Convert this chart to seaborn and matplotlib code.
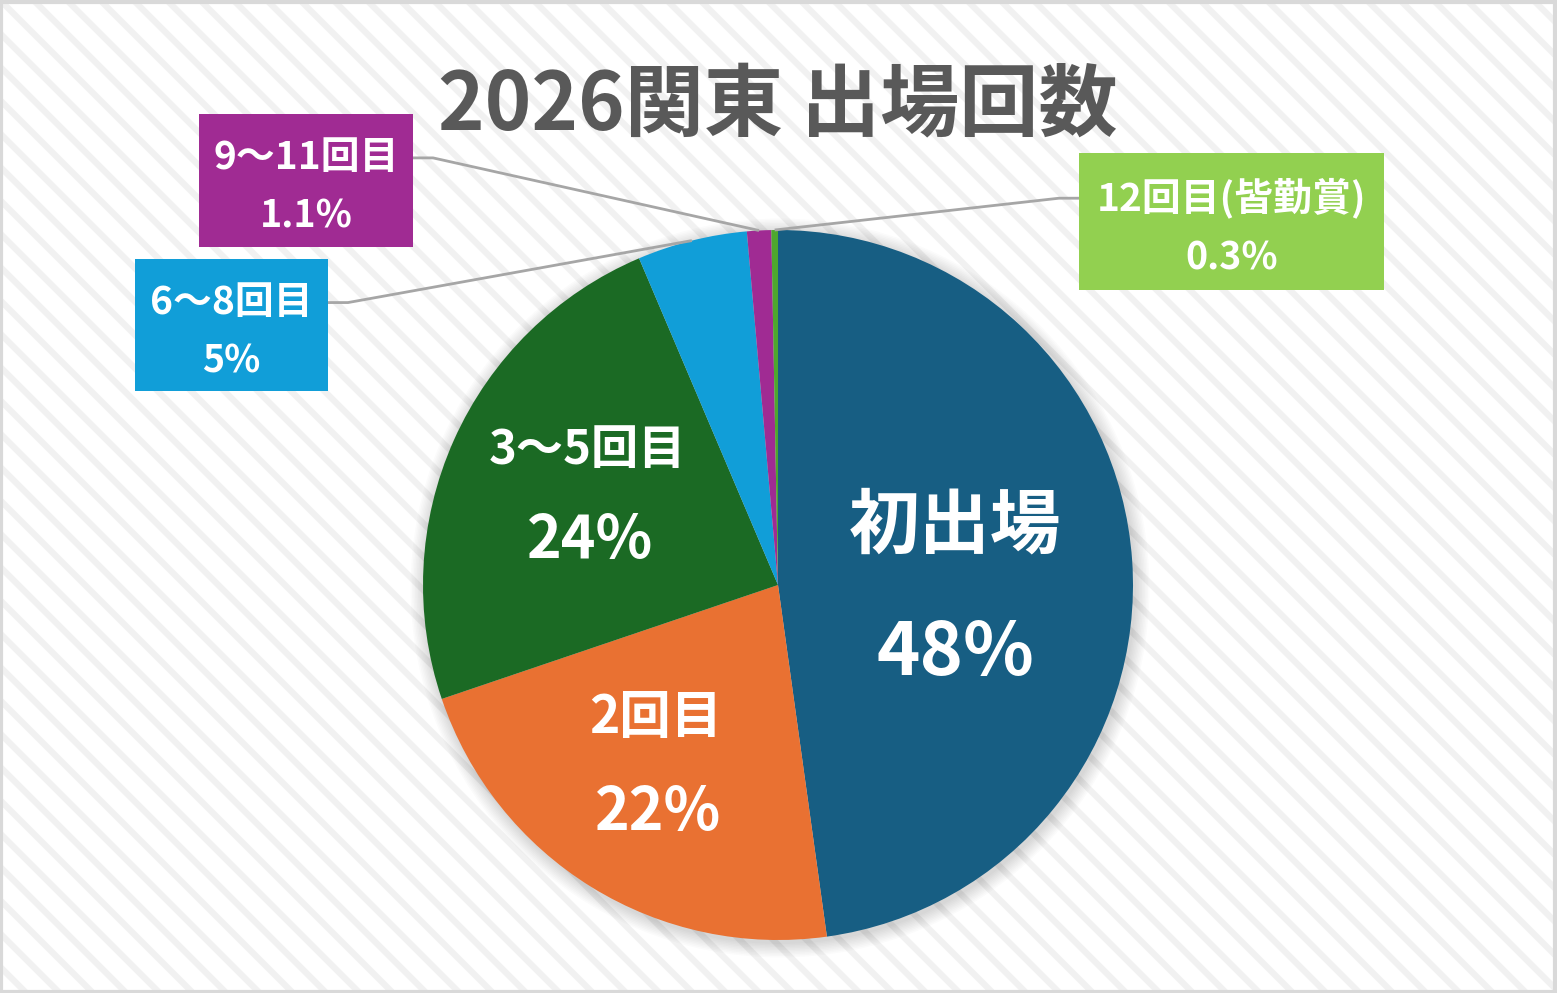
import numpy as np
import matplotlib
matplotlib.use('Agg')
import matplotlib.pyplot as plt
from matplotlib.patches import Rectangle, Circle
import seaborn as sns

# data
categories = ['初出場', '2回目', '3～5回目', '6～8回目', '9～11回目', '12回目(皆勤賞)']
shares = [47.8, 22.0, 23.8, 5.0, 1.1, 0.3]
slice_colors = ['#175E83', '#E97132', '#1B6A24', '#119ED8', '#A02B93', '#4EA72E']
box_colors = {3: '#119ED8', 4: '#A02B93', 5: '#92D050'}
title = '2026関東 出場回数'

sns.set_theme(style='white')
plt.rcParams['font.family'] = ['Noto Sans CJK JP', 'DejaVu Sans']
plt.rcParams['hatch.linewidth'] = 4.5

W, H = 1557, 993
fig = plt.figure(figsize=(W / 100, H / 100), dpi=100)
ax = fig.add_axes([0, 0, 1, 1])
ax.set_aspect('equal')

# hatched background + frame
ax.add_patch(Rectangle((0, 0), W, H, facecolor='white', edgecolor='#F1F1F1',
                       hatch='\\', linewidth=0, zorder=0))
ax.add_patch(Rectangle((1.5, 1.5), W - 3, H - 3, facecolor='none', edgecolor='#D9D9D9',
                       linewidth=3, zorder=10))

cx, cy, R = 778, 585, 355

# soft shadow
for k in range(10):
    ax.add_patch(Circle((cx + 2, cy + 3), R + 1 + k * 1.5, facecolor='#000000',
                        alpha=0.014, linewidth=0, zorder=1))

wedges, _ = ax.pie(shares, colors=slice_colors, startangle=-90, counterclock=True,
                   center=(cx, cy), radius=R, wedgeprops=dict(linewidth=0, zorder=2))
ax.set_xlim(0, W)
ax.set_ylim(H, 0)
ax.axis('off')


def pct(v):
    return f'{v:.0f}%' if v >= 5 else f'{v:.1f}%'


ax.text(778, 106, title, ha='center', va='center', fontsize=57, fontweight='bold',
        color='#595959', zorder=5)

# labels inside slices
inside = {0: ((955, 527), (955, 654), 51, 53),
          1: ((656, 718), (658, 813), 37, 42.5),
          2: ((587, 450), (590, 541), 34, 42.5)}
for i, ((x1, y1), (x2, y2), s1, s2) in inside.items():
    ax.text(x1, y1, categories[i], ha='center', va='center', fontsize=s1,
            fontweight='bold', color='white', zorder=5)
    ax.text(x2, y2, pct(shares[i]), ha='center', va='center', fontsize=s2,
            fontweight='bold', color='white', zorder=5)

# callout boxes (x0, y0, x1, y1, side)
boxes = {3: (135, 259, 328, 391, 'right'),
         4: (199, 114, 413, 247, 'right'),
         5: (1079, 153, 1384, 290, 'left')}
for i, (x0, y0, x1, y1, side) in boxes.items():
    ax.add_patch(Rectangle((x0, y0), x1 - x0, y1 - y0, facecolor=box_colors[i],
                           linewidth=0, zorder=6))
    xm = (x0 + x1) / 2
    ya = y0 + (y1 - y0) * 0.33
    yb = y0 + (y1 - y0) * 0.77
    ax.text(xm, ya, categories[i], ha='center', va='center', fontsize=28,
            fontweight='bold', color='white', zorder=7)
    ax.text(xm, yb, pct(shares[i]), ha='center', va='center', fontsize=27,
            fontweight='bold', color='white', zorder=7)
    w = wedges[i]
    th = np.deg2rad((w.theta1 + w.theta2) / 2)
    ex, ey = cx + R * np.cos(th), cy + R * np.sin(th)
    if side == 'right':
        sx, kx = x1, x1 + 20
    else:
        sx, kx = x0, x0 - 20
    ly = y0 + (y1 - y0) * 0.33
    ax.plot([sx, kx, ex], [ly, ly, ey], color='#A6A6A6', linewidth=2, zorder=4,
            solid_capstyle='butt')

fig.savefig('out.png', dpi=100)
